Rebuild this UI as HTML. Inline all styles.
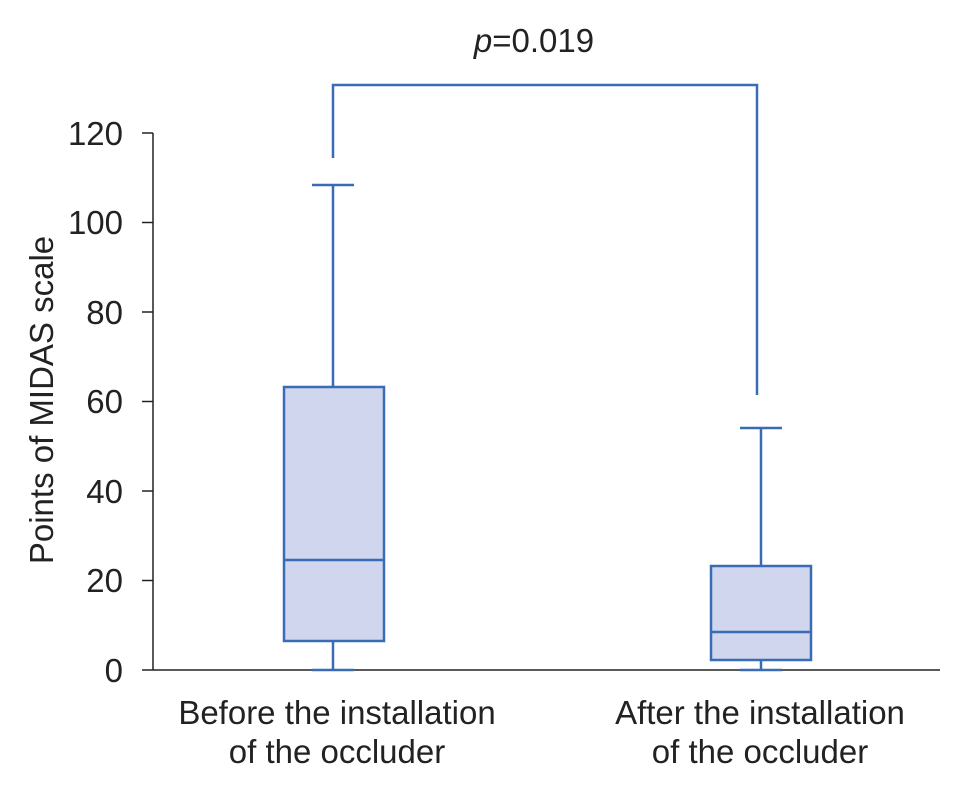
<!DOCTYPE html>
<html><head><style>body{margin:0;background:#fff}</style></head><body>
<svg width="971" height="796" xmlns="http://www.w3.org/2000/svg" font-family="Liberation Sans, Arial, sans-serif" fill="#222">
<g stroke="#222" stroke-width="1.5">
<line x1="153" y1="133" x2="153" y2="670"/>
<line x1="153" y1="670" x2="940" y2="670"/>
<line x1="142" y1="133" x2="153" y2="133"/>
<line x1="142" y1="222.5" x2="153" y2="222.5"/>
<line x1="142" y1="312" x2="153" y2="312"/>
<line x1="142" y1="401.5" x2="153" y2="401.5"/>
<line x1="142" y1="491" x2="153" y2="491"/>
<line x1="142" y1="580.5" x2="153" y2="580.5"/>
<line x1="142" y1="670" x2="153" y2="670"/>
</g>
<g font-size="33" text-anchor="end">
<text x="123" y="145">120</text>
<text x="123" y="234">100</text>
<text x="123" y="324">80</text>
<text x="123" y="413">60</text>
<text x="123" y="503">40</text>
<text x="123" y="592">20</text>
<text x="123" y="682">0</text>
</g>
<text transform="translate(53,400) rotate(-90)" font-size="33" text-anchor="middle">Points of MIDAS scale</text>
<g font-size="33" text-anchor="middle">
<text x="337" y="724">Before the installation</text>
<text x="337" y="763">of the occluder</text>
<text x="760" y="724">After the installation</text>
<text x="760" y="763">of the occluder</text>
<text x="534" y="52"><tspan font-style="italic">p</tspan>=0.019</text>
</g>
<g stroke="#3a6bb5" stroke-width="2.5" fill="none">
<polyline points="333,158 333,85 757,85 757,395"/>
<line x1="333" y1="185" x2="333" y2="387"/>
<line x1="312" y1="185" x2="354" y2="185"/>
<line x1="333" y1="641" x2="333" y2="670"/>
<line x1="312" y1="670" x2="354" y2="670"/>
<rect x="284" y="387" width="100" height="254" fill="#d0d6ee"/>
<line x1="284" y1="560" x2="384" y2="560"/>
<line x1="761" y1="428" x2="761" y2="566"/>
<line x1="740" y1="428" x2="782" y2="428"/>
<line x1="761" y1="660" x2="761" y2="670"/>
<line x1="740" y1="670" x2="782" y2="670"/>
<rect x="711" y="566" width="100" height="94" fill="#d0d6ee"/>
<line x1="711" y1="632" x2="811" y2="632"/>
</g>
</svg>
</body></html>
